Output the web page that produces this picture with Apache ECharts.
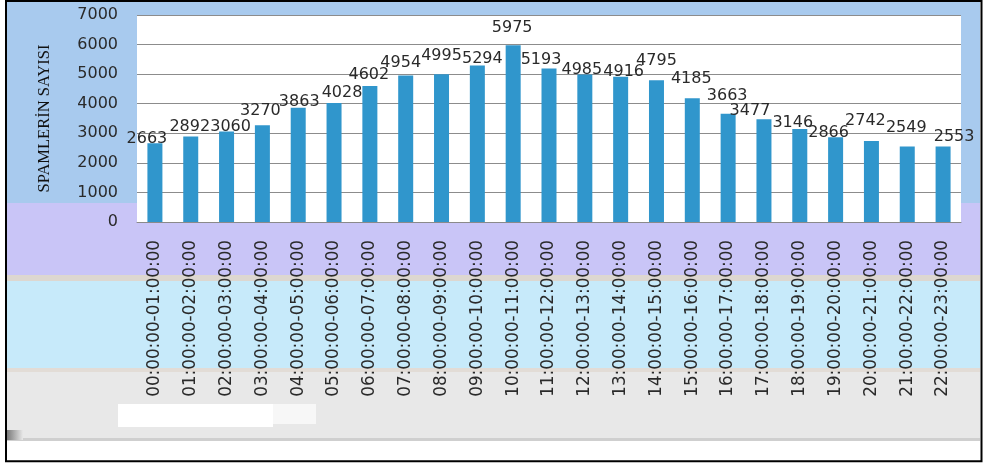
<!DOCTYPE html>
<html>
<head>
<meta charset="utf-8">
<script src="https://cdn.jsdelivr.net/npm/echarts@6/dist/echarts.min.js"></script>
<style>
  html, body { margin: 0; padding: 0; background: #fff; }
  #container { width: 992px; height: 467px; }
</style>
</head>
<body>
<div id="container"></div>
<script type="text/javascript">
// saat araliklari
var categories = ["00:00:00-01:00:00","01:00:00-02:00:00","02:00:00-03:00:00","03:00:00-04:00:00",
  "04:00:00-05:00:00","05:00:00-06:00:00","06:00:00-07:00:00","07:00:00-08:00:00",
  "08:00:00-09:00:00","09:00:00-10:00:00","10:00:00-11:00:00","11:00:00-12:00:00",
  "12:00:00-13:00:00","13:00:00-14:00:00","14:00:00-15:00:00","15:00:00-16:00:00",
  "16:00:00-17:00:00","17:00:00-18:00:00","18:00:00-19:00:00","19:00:00-20:00:00",
  "20:00:00-21:00:00","21:00:00-22:00:00","22:00:00-23:00:00"];
// spam sayilari
var spamCounts = [2663,2892,3060,3270,3863,4028,4602,4954,4995,5294,5975,5193,4985,4916,4795,4185,3663,3477,3146,2866,2742,2549,2553];
// y ekseni
var yMin = 0, yMax = 7000, yStep = 1000;
// etiket kaymalari (excel'deki gibi daginik)
var labelShift = [[-8,0],[-1,-6],[4,-1],[-2,-10],[1,-2],[8,-6],[-1,-7],[-5,-9],[0,-14],[5,-3],[-1,-13],[-8,-5],
  [-3,-1],[3,-1],[0,-15],[-1,-15],[-1,-14],[-14,-4],[-7,-2],[-7,0],[-6,-16],[-1,-15],[11,-6]];

var myChart = echarts.init(document.getElementById('container'));

var barData = spamCounts.map(function (v, i) {
    return { value: v, label: { offset: [labelShift[i][0], labelShift[i][1] + 4] } };
});

var option = {
    animation: false,
    graphic: [
        { type: 'rect', z: -10, shape: { x: 7, y: 2, width: 973, height: 201 }, style: { fill: '#a8caee' } },
        { type: 'rect', z: -10, shape: { x: 7, y: 203, width: 973, height: 72 }, style: { fill: '#c9c5f7' } },
        { type: 'rect', z: -10, shape: { x: 7, y: 275, width: 973, height: 6 }, style: { fill: '#ddd7d0' } },
        { type: 'rect', z: -10, shape: { x: 7, y: 281, width: 973, height: 87 }, style: { fill: '#c7eafa' } },
        { type: 'rect', z: -10, shape: { x: 7, y: 368, width: 973, height: 4 }, style: { fill: '#e2dcd6' } },
        { type: 'rect', z: -10, shape: { x: 7, y: 372, width: 973, height: 66 }, style: { fill: '#e8e8e8' } },
        { type: 'rect', z: -10, shape: { x: 7, y: 438, width: 973, height: 3 }, style: { fill: '#cfcfcf' } },
        { type: 'rect', z: -9, shape: { x: 7, y: 430, width: 16, height: 10 },
          style: { fill: new echarts.graphic.LinearGradient(0, 0, 1, 0, [{ offset: 0, color: '#7a7a7a' }, { offset: 1, color: '#e8e8e8' }]) } },
        { type: 'rect', z: -9, shape: { x: 118, y: 404, width: 155, height: 23 }, style: { fill: '#ffffff' } },
        { type: 'rect', z: -9, shape: { x: 273, y: 404, width: 43, height: 20 }, style: { fill: '#f7f7f7' } },
        { type: 'rect', z: 50, shape: { x: 6, y: 1, width: 975.5, height: 460.3 }, style: { fill: 'none', stroke: '#000', lineWidth: 2 } }
    ],
    grid: {
        left: 137,
        right: 31,
        top: 15,
        bottom: 245,
        show: true,
        backgroundColor: '#ffffff',
        borderWidth: 0
    },
    xAxis: {
        type: 'category',
        data: categories,
        axisLine: { lineStyle: { color: '#8a8a8a' } },
        axisTick: { show: false },
        axisLabel: {
            rotate: 90,
            margin: 18,
            interval: 0,
            color: '#2a2a2a',
            fontFamily: 'DejaVu Sans',
            fontSize: 16.8
        }
    },
    yAxis: {
        type: 'value',
        min: yMin,
        max: yMax,
        interval: yStep,
        name: 'SPAMLERİN SAYISI',
        nameLocation: 'middle',
        nameRotate: 90,
        nameGap: 84,
        nameTextStyle: {
            color: '#111',
            fontFamily: 'Liberation Serif',
            fontSize: 16.5
        },
        axisLine: { show: false },
        axisTick: { show: false },
        splitLine: { lineStyle: { color: '#8c8c8c', width: 1 } },
        axisLabel: {
            margin: 19,
            color: '#2a2a2a',
            fontFamily: 'DejaVu Sans',
            fontSize: 16,
            formatter: function (v) { return String(v); }
        }
    },
    series: [{
        name: 'spam',
        type: 'bar',
        barWidth: 15,
        data: barData,
        itemStyle: { color: '#3096cc' },
        label: {
            show: true,
            position: 'top',
            distance: 0,
            color: '#2a2a2a',
            fontFamily: 'DejaVu Sans',
            fontSize: 16
        }
    }]
};

myChart.setOption(option);
</script>
</body>
</html>
